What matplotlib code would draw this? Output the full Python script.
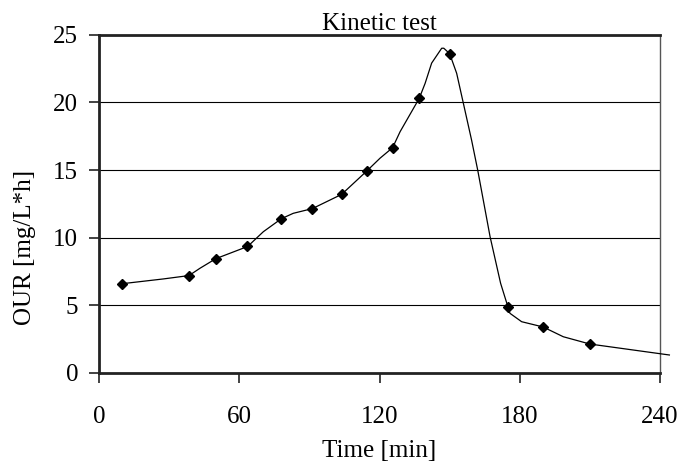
import matplotlib
matplotlib.use("Agg")
import matplotlib.pyplot as plt

# measured points (markers)
time_min = [10, 38.5, 50, 63.5, 78, 91.3, 103.8, 114.7, 125.6, 137, 150, 175, 190, 210]
our = [6.6, 7.2, 8.45, 9.35, 11.4, 12.15, 13.2, 14.95, 16.65, 20.3, 23.6, 4.85, 3.4, 2.15]

# smoothed trend line
line_t = [10, 27.5, 38.5, 43.2, 50, 63.6, 70.3, 78, 83.1, 91.3, 103.8, 114.7, 120.2,
          125.6, 128.8, 137, 139.5, 142.3, 146.6, 147.5, 150, 153, 159.4, 162, 167.3,
          171.8, 175, 175.8, 180.8, 190, 198.6, 210, 244]
line_y = [6.6, 6.95, 7.2, 7.74, 8.45, 9.35, 10.44, 11.4, 11.8, 12.15, 13.2, 14.95, 15.87,
          16.65, 17.83, 20.3, 21.4, 22.9, 24.0, 24.0, 23.6, 22.15, 17.2, 15.0, 10.07,
          6.63, 4.85, 4.41, 3.79, 3.4, 2.68, 2.14, 1.33]

x_ticks = [0, 60, 120, 180, 240]
y_ticks = [0, 5, 10, 15, 20, 25]

plt.rcParams['font.family'] = ['Liberation Serif', 'DejaVu Serif']

fig = plt.figure(figsize=(6.78, 4.67), dpi=100)
ax = fig.add_axes([0.146, 0.2013, 0.8275, 0.7244])

ax.set_xlim(0, 240)
ax.set_ylim(0, 25)

for yv in y_ticks[1:]:
    ax.axhline(yv, color='black', lw=0.8, zorder=1)

ax.plot(line_t, line_y, color='black', lw=0.9, clip_on=False, zorder=3)
ax.plot(time_min, our, linestyle='none', marker='D', color='black', markersize=5, zorder=4)

ax.set_xticks(x_ticks)
ax.set_yticks(y_ticks)
ax.tick_params(axis='both', labelsize=18, direction='out', length=7, width=1.2, color='#222222')
ax.tick_params(axis='x', pad=17)
ax.tick_params(axis='y', pad=8)

for s in ['left', 'bottom', 'top']:
    ax.spines[s].set_linewidth(2)
    ax.spines[s].set_color('#222222')
ax.spines['right'].set_linewidth(1)
ax.spines['right'].set_color('#555555')

ax.set_title('Kinetic test', fontsize=18, pad=3)
ax.set_xlabel('Time [min]', fontsize=18)
ax.set_ylabel('OUR [mg/L*h]', fontsize=18)
ax.xaxis.set_label_coords(0.5, -0.197)
ax.yaxis.set_label_coords(-0.112, 0.37)

fig.savefig('out.png', dpi=100)
